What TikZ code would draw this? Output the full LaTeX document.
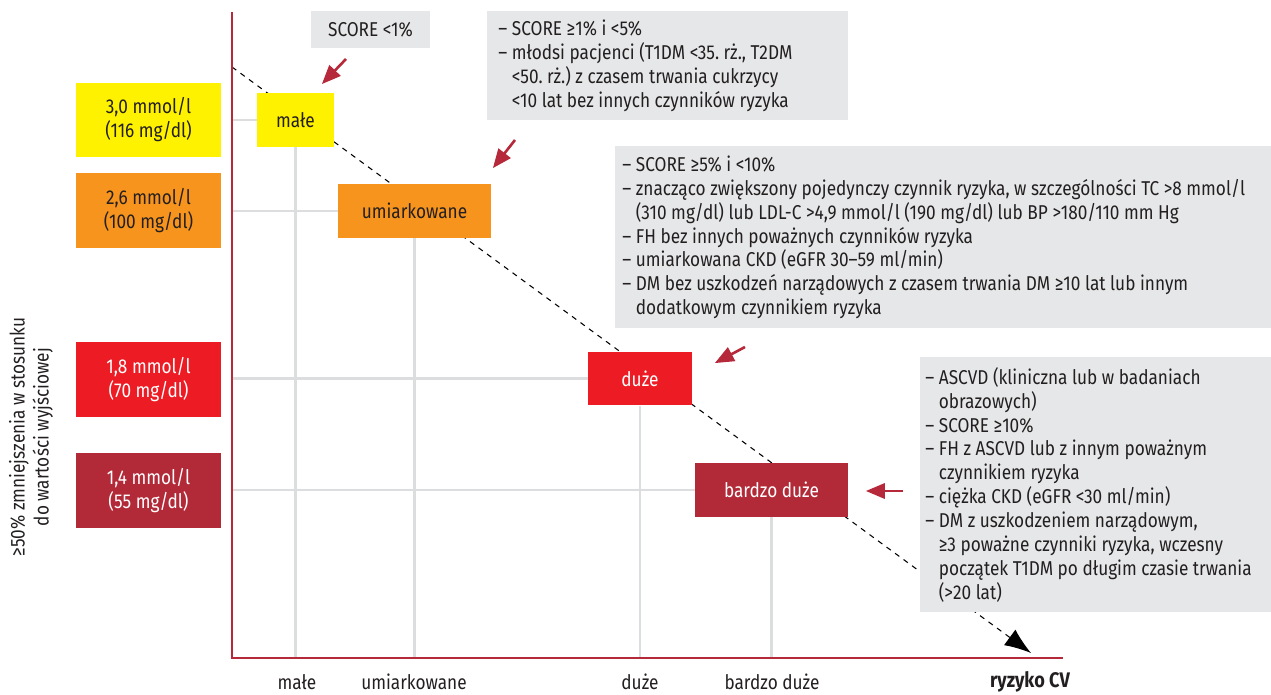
\documentclass[tikz,border=0pt]{standalone}
\usepackage{fontspec}
\setmainfont{Fira Sans}[FakeStretch=0.86]
\usepackage{tikz}
\usetikzlibrary{arrows,arrows.meta,backgrounds}

\definecolor{axisred}{HTML}{B5293A}
\definecolor{lvyellow}{HTML}{FFF200}
\definecolor{lvorange}{HTML}{F7941D}
\definecolor{lvred}{HTML}{ED1C24}
\definecolor{lvdark}{HTML}{B22A38}
\definecolor{boxgray}{HTML}{E6E7E8}
\definecolor{gridgray}{HTML}{DCDDDE}
\definecolor{txt}{HTML}{231F20}

\newcommand{\hangsp}{\hphantom{– }}
\frenchspacing

\begin{document}
\begin{tikzpicture}[
		x=0.02cm, y=-0.02cm,
		font=\fontsize{11.4}{13.6}\selectfont, text=txt,
		lvlbox/.style={minimum width=2.9cm, minimum height=1.5cm, inner sep=0pt, align=center},
		catbox/.style={minimum height=1.08cm, inner sep=0pt, align=center},
		infobox/.style={fill=boxgray, inner ysep=0pt, align=left,
			execute at begin node={\frenchspacing\spaceskip=0pt\xspaceskip=0pt\relax}},
		gridline/.style={draw=gridgray, line width=1.3pt},
		axisline/.style={draw=axisred, line width=1.7pt},
		redarr/.style={draw=axisred, line width=1.5pt, -triangle 45},
		trend/.style={dashed, line width=0.6pt, -{Latex[length=15pt,width=11pt]}},
		xlab/.style={inner sep=0pt}
	]
	\useasboundingbox (0,0) rectangle (1271,695);
	% axes
	\coordinate (o) at (232,658);
	\coordinate (ytop) at (232,12);
	\coordinate (xend) at (1063,658);
	% levels
	\node[lvlbox, fill=lvyellow] (l30) at (148.5,120) {3,0 mmol/l\\(116 mg/dl)};
	\node[lvlbox, fill=lvorange] (l26) at (148.5,210.5) {2,6 mmol/l\\(100 mg/dl)};
	\node[lvlbox, fill=lvred, text=white] (l18) at (148.5,379.5) {1,8 mmol/l\\(70 mg/dl)};
	\node[lvlbox, fill=lvdark, text=white] (l14) at (148.5,490.5) {1,4 mmol/l\\(55 mg/dl)};
	% risk categories
	\node[catbox, fill=lvyellow, minimum width=1.54cm] (male) at (295.5,120) {małe};
	\node[catbox, fill=lvorange, minimum width=3.06cm] (umiark) at (414.5,211) {umiarkowane};
	\node[catbox, fill=lvred, text=white, minimum width=2.08cm] (duze) at (640,378.5) {duże};
	\node[catbox, fill=lvdark, text=white, minimum width=3.06cm] (bduze) at (771.5,490) {bardzo duże};
	% grid and trend behind the boxes
	\begin{scope}[on background layer]
	\draw[gridline] (male.west) -- (male.west -| o);
	\draw[gridline] (umiark.west) -- (umiark.west -| o);
	\draw[gridline] (duze.west) -- (duze.west -| o);
	\draw[gridline] (bduze.west) -- (bduze.west -| o);
	\draw[gridline] (male.south) -- (male.south |- o);
	\draw[gridline] (umiark.south) -- (umiark.south |- o);
	\draw[gridline] (duze.south) -- (duze.south |- o);
	\draw[gridline] (bduze.south) -- (bduze.south |- o);
	\coordinate (dstart) at (232,67);
	\coordinate (dend) at (1031,653);
	\draw[trend] (dstart) -- (dend);
	\end{scope}
	\draw[axisline] (ytop) -- (o) -- (xend);
	% criteria
	\node[infobox, minimum width=2.38cm, minimum height=0.74cm, align=center, inner xsep=0pt] (s1) at (370.5,29.5) {SCORE <1\%};
	\node[infobox, anchor=north west, minimum height=2.18cm, text width=6.78cm, inner xsep=0.22cm] (s2) at (487,11) {– SCORE ≥1\% i <5\%\\– młodsi pacjenci (T1DM <35. rż., T2DM\\\hangsp<50. rż.) z czasem trwania cukrzycy\\\hangsp<10 lat bez innych czynników ryzyka};
	\node[infobox, anchor=north west, minimum height=3.64cm, text width=12.84cm, inner xsep=0.14cm] (s3) at (615,146) {– SCORE ≥5\% i <10\%\\– znacząco zwiększony pojedynczy czynnik ryzyka, w szczególności TC >8 mmol/l\\\hangsp(310 mg/dl) lub LDL-C >4,9 mmol/l (190 mg/dl) lub BP >180/110 mm Hg\\– FH bez innych poważnych czynników ryzyka\\– umiarkowana CKD (eGFR 30–59 ml/min)\\– DM bez uszkodzeń narządowych z czasem trwania DM ≥10 lat lub innym\\\hangsp dodatkowym czynnikiem ryzyka};
	\node[infobox, anchor=north west, minimum height=5.1cm, text width=6.82cm, inner xsep=0.1cm] (s4) at (920,357) {– ASCVD (kliniczna lub w badaniach\\\hangsp obrazowych)\\– SCORE ≥10\%\\– FH z ASCVD lub z innym poważnym\\\hangsp czynnikiem ryzyka\\– ciężka CKD (eGFR <30 ml/min)\\– DM z uszkodzeniem narządowym,\\\hangsp≥3 poważne czynniki ryzyka, wczesny\\\hangsp początek T1DM po długim czasie trwania\\\hangsp(>20 lat)};
	% pointers
	\coordinate (p1) at (346,59);
	\coordinate (q1) at (322,84);
	\coordinate (p2) at (515,140);
	\coordinate (q2) at (493,168);
	\coordinate (p3) at (745,347);
	\coordinate (q3) at (715,363);
	\coordinate (p4) at (903,491);
	\coordinate (q4) at (866,491);
	\draw[redarr] (p1) -- (q1);
	\draw[redarr] (p2) -- (q2);
	\draw[redarr] (p3) -- (q3);
	\draw[redarr] (p4) -- (q4);
	% axis labels
	\node[xlab] (xl1) at (297,682) {małe};
	\node[xlab] (xl2) at (414,682) {umiarkowane};
	\node[xlab] (xl3) at (640,682) {duże};
	\node[xlab] (xl4) at (772,682) {bardzo duże};
	\node[xlab, font=\fontsize{12}{14}\selectfont\bfseries] (xl5) at (1030,682) {ryzyko CV};
	\node[rotate=90, align=center] (ylab) at (31,437) {≥50\% zmniejszenia w stosunku\\do wartości wyjściowej};
\end{tikzpicture}
\end{document}
